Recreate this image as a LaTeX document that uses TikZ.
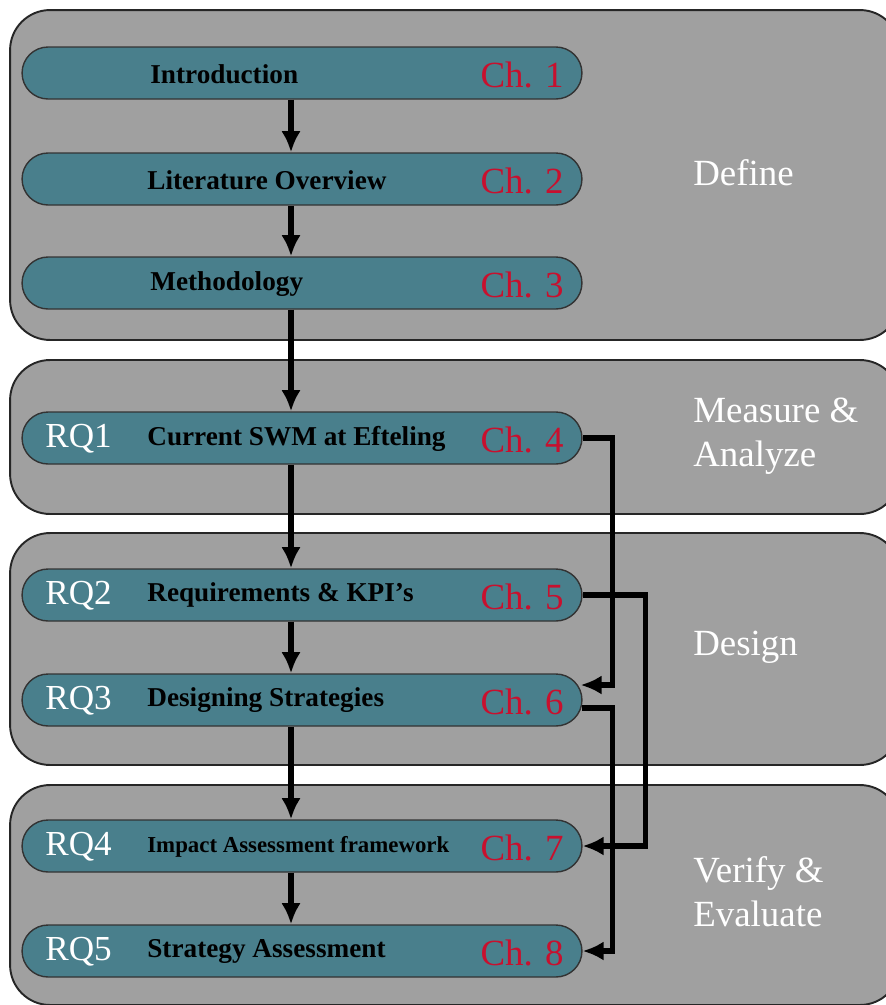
\documentclass[tikz,border=0pt]{standalone}
\usepackage{fontspec}
\setmainfont{Liberation Serif}
\usetikzlibrary{arrows.meta,calc}
\definecolor{phasegray}{RGB}{160,160,160}
\definecolor{chapterteal}{RGB}{73,127,140}
\definecolor{chapterred}{RGB}{200,16,46}

\begin{document}
\begin{tikzpicture}[x=0.02cm,y=-0.02cm,
    phase/.style={draw=black!85,line width=1.1pt,fill=phasegray,rounded corners=0.8cm,minimum width=17.8cm,inner sep=0},
    chapter/.style={draw=black!80,line width=0.8pt,fill=chapterteal,rounded corners=0.52cm,minimum width=11.2cm,minimum height=1.04cm,inner sep=0},
    title/.style={anchor=west,inner sep=0,font=\bfseries\fontsize{15.5}{18}\selectfont},
    rqlabel/.style={anchor=west,inner sep=0,text=white,font=\fontsize{20}{24}\selectfont},
    chlabel/.style={anchor=east,inner sep=0,text=chapterred,font=\fontsize{21}{25}\selectfont},
    phaselabel/.style={anchor=west,inner sep=0,align=left,text=white,font=\fontsize{21}{25}\selectfont},
    flow/.style={-{Latex[length=12pt,width=11pt]},line width=3pt}]
            \clip (0,0) rectangle (886,1005);

            % Phase boxes
            \node[phase,minimum height=6.6cm] (define) at (455,175) {};
            \node[phase,minimum height=3.08cm] (measure) at (455,437) {};
            \node[phase,minimum height=4.64cm] (design) at (455,649) {};
            \node[phase,minimum height=4.4cm] (verify) at (455,895) {};
            \node[phaselabel] (definelabel) at (693,173) {Define};
            \node[phaselabel] (measurelabel) at (693,436) {Measure \&\\Analyze};
            \node[phaselabel] (designlabel) at (693,647) {Design};
            \node[phaselabel] (verifylabel) at (693,892) {Verify \&\\Evaluate};

            % Chapter boxes
            \node[chapter] (intro) at (302,73) {};
            \node[chapter] (lit) at (302,179) {};
            \node[chapter] (meth) at (302,283) {};
            \node[chapter] (rq1) at (302,438) {};
            \node[chapter] (rq2) at (302,595) {};
            \node[chapter] (rq3) at (302,700) {};
            \node[chapter] (rq4) at (302,846) {};
            \node[chapter] (rq5) at (302,951) {};

            % Titles
            \node[title] (introtitle) at (150,74) {Introduction};
            \node[title] (littitle) at (147,180) {Literature Overview};
            \node[title] (methtitle) at (150,284) {Methodology};
            \node[title] (rq1title) at (147,439) {Current SWM at Efteling};
            \node[title] (rq2title) at (147,595) {Requirements \& KPI’s};
            \node[title] (rq3title) at (147,700) {Designing Strategies};
            \node[title,font=\bfseries\fontsize{13}{16}\selectfont] (rq4title) at (147,847) {Impact Assessment framework};
            \node[title] (rq5title) at (147,951) {Strategy Assessment};

            % Research questions
            \node[rqlabel] (rq1label) at (45,439) {RQ1};
            \node[rqlabel] (rq2label) at (45,596) {RQ2};
            \node[rqlabel] (rq3label) at (45,701) {RQ3};
            \node[rqlabel] (rq4label) at (45,847) {RQ4};
            \node[rqlabel] (rq5label) at (45,952) {RQ5};

            % Chapter numbers
            \node[chlabel] (ch1) at (564,75) {Ch. 1};
            \node[chlabel] (ch2) at (564,181) {Ch. 2};
            \node[chlabel] (ch3) at (564,285) {Ch. 3};
            \node[chlabel] (ch4) at (564,440) {Ch. 4};
            \node[chlabel] (ch5) at (564,597) {Ch. 5};
            \node[chlabel] (ch6) at (564,702) {Ch. 6};
            \node[chlabel] (ch7) at (564,848) {Ch. 7};
            \node[chlabel] (ch8) at (564,953) {Ch. 8};

            % Arrows
            \coordinate (spine) at (291,0);
            \draw[flow] (intro.south -| spine) -- (lit.north -| spine);
            \draw[flow] (lit.south -| spine) -- (meth.north -| spine);
            \draw[flow] (meth.south -| spine) -- (rq1.north -| spine);
            \draw[flow] (rq1.south -| spine) -- (rq2.north -| spine);
            \draw[flow] (rq2.south -| spine) -- (rq3.north -| spine);
            \draw[flow] (rq3.south -| spine) -- (rq4.north -| spine);
            \draw[flow] (rq4.south -| spine) -- (rq5.north -| spine);
            \draw[flow] (rq1.east) -- ++(30,0) |- ($(rq3.east)+(-2,-15)$);
            \draw[flow] (rq2.east) -- ++(63,0) |- (rq4.east);
            \draw[flow] ($(rq3.east)+(-1,8)$) -- ++(31,0) |- (rq5.east);
        \end{tikzpicture}
\end{document}
